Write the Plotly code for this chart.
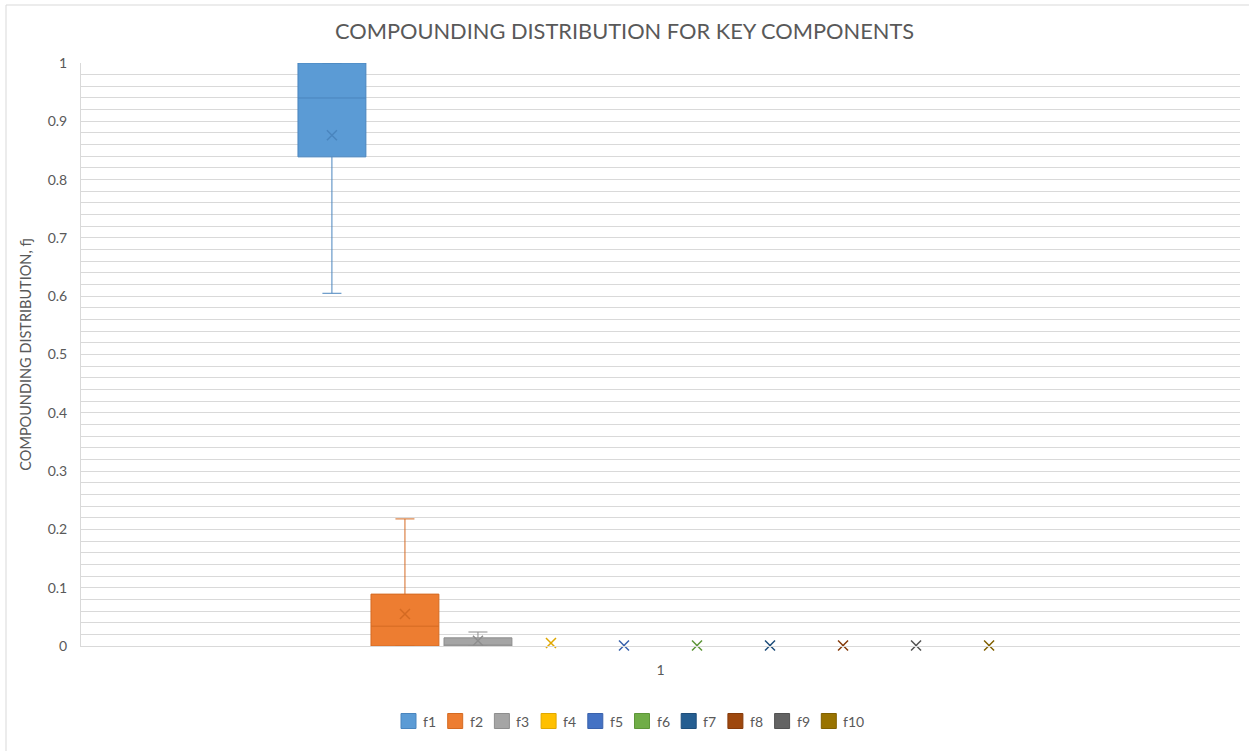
import plotly.graph_objects as go

# Component series and their box statistics (compounding distribution fj)
series = ["f1", "f2", "f3", "f4", "f5", "f6", "f7", "f8", "f9", "f10"]
category = "1"
q1 = [0.839, 0.0, 0.0, 0.0, 0.0, 0.0, 0.0, 0.0, 0.0, 0.0]
median = [0.940, 0.034, 0.0, 0.0, 0.0, 0.0, 0.0, 0.0, 0.0, 0.0]
q3 = [1.0, 0.089, 0.014, 0.0, 0.0, 0.0, 0.0, 0.0, 0.0, 0.0]
lower = [0.605, 0.0, 0.0, 0.0, 0.0, 0.0, 0.0, 0.0, 0.0, 0.0]
upper = [1.0, 0.218, 0.024, 0.0, 0.0, 0.0, 0.0, 0.0, 0.0, 0.0]
mean = [0.876, 0.055, 0.009, 0.005, 0.001, 0.001, 0.001, 0.001, 0.001, 0.001]

fill_colors = ["#5B9BD5", "#ED7D31", "#A5A5A5", "#FFC000", "#4472C4",
               "#70AD47", "#255E91", "#9E480E", "#636363", "#997300"]
line_colors = ["#4A85BE", "#D46A22", "#8E8E8E", "#E0A800", "#3A62AC",
               "#5E9639", "#1E4E7A", "#853B0B", "#525252", "#806000"]

GRID = "#D9D9D9"
TEXT = "#595959"
FONT = "Lato"
BOXGAP = 0.37
GROUPGAP = 0.07

W, H = 1249, 751
ML, MR, MT, MB = 81, 9, 63, 105
PW, PH = W - ML - MR, H - MT - MB


def px_x(px):
    return (px - ML) / PW


def px_y(py):
    return (H - MB - py) / PH


fig = go.Figure()

for i, name in enumerate(series):
    # A box with no spread collapses onto the axis and is left unoutlined
    flat = (upper[i] - lower[i]) == 0
    fig.add_trace(go.Box(
        name=name,
        x=[category],
        q1=[q1[i]], median=[median[i]], q3=[q3[i]],
        lowerfence=[lower[i]], upperfence=[upper[i]],
        fillcolor=fill_colors[i],
        line=dict(color=line_colors[i], width=0 if flat else 1),
        whiskerwidth=0.28,
        boxpoints=False,
        offsetgroup=name,
        showlegend=False,
        hoverinfo="skip",
    ))

# Mean markers drawn as thin crosses in the same group slots
for i, name in enumerate(series):
    fig.add_trace(go.Scatter(
        x=[category], y=[mean[i]],
        mode="markers",
        marker=dict(symbol="x-thin", size=10,
                    line=dict(color=line_colors[i], width=1.5)),
        offsetgroup=name,
        cliponaxis=False,
        showlegend=False,
        hoverinfo="skip",
    ))

# Compact legend row under the axis
LEG_X0, LEG_STEP, SQ, LEG_Y = 401, 46.7, 15, 721
for i, name in enumerate(series):
    x0 = LEG_X0 + i * LEG_STEP
    fig.add_shape(type="rect", xref="paper", yref="paper",
                  x0=px_x(x0), x1=px_x(x0 + SQ),
                  y0=px_y(LEG_Y + SQ / 2), y1=px_y(LEG_Y - SQ / 2),
                  fillcolor=fill_colors[i],
                  line=dict(color=line_colors[i], width=1))
    fig.add_annotation(xref="paper", yref="paper",
                       x=px_x(x0 + SQ + 5), y=px_y(LEG_Y),
                       xanchor="left", yanchor="middle", showarrow=False,
                       text=name, font=dict(family=FONT, size=14, color=TEXT))

fig.update_layout(
    width=W, height=H,
    paper_bgcolor="white", plot_bgcolor="white",
    margin=dict(l=ML, r=MR, t=MT, b=MB),
    boxmode="group", boxgap=BOXGAP, boxgroupgap=GROUPGAP,
    scattermode="group", scattergap=BOXGAP,
    font=dict(family=FONT, color=TEXT, size=13),
    title=dict(text="COMPOUNDING DISTRIBUTION FOR KEY COMPONENTS",
               x=0.5, xanchor="center", y=1 - 31 / H, yanchor="middle",
               font=dict(family=FONT, size=21.8, color=TEXT)),
    showlegend=False,
    xaxis=dict(type="category", showgrid=False, showline=True,
               linecolor=GRID, linewidth=1, ticks="",
               ticklabelstandoff=11,
               tickfont=dict(size=14, color=TEXT), zeroline=False),
    yaxis=dict(range=[0, 1], dtick=0.1, showgrid=True, gridcolor=GRID,
               gridwidth=1, showline=True, linecolor=GRID, linewidth=1,
               zeroline=False, ticks="", ticklabelstandoff=10,
               tickfont=dict(size=14, color=TEXT),
               minor=dict(dtick=0.02, showgrid=True, gridcolor=GRID,
                          gridwidth=1),
               title=dict(text="COMPOUNDING DISTRIBUTION, fj",
                          font=dict(size=14.5, color=TEXT), standoff=12)),
)

# Chart area border
fig.add_shape(type="rect", xref="paper", yref="paper",
              x0=px_x(6), x1=px_x(W + 10),
              y0=px_y(H + 10), y1=px_y(5),
              line=dict(color=GRID, width=1), fillcolor="rgba(0,0,0,0)",
              layer="below")

fig.write_html("out.html")
